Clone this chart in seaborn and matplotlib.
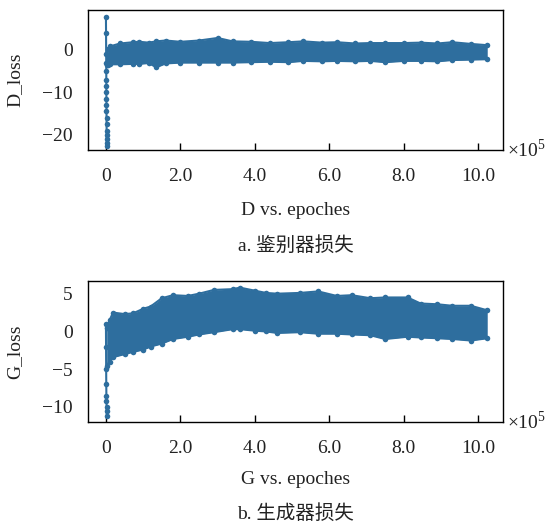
import numpy as np
import matplotlib
matplotlib.use("Agg")
import matplotlib.pyplot as plt
import seaborn as sns
from matplotlib.ticker import FuncFormatter

# values (x in epochs)
d_spike_x = [0, 300, 600, 800, 900, 1000, 1100, 1200, 1300, 1400, 1500, 1600, 1700, 1800, 1900, 2000, 2100, 2200]
d_spike_y = [7.7, 4.0, -1.0, -3.0, -5.0, -7.0, -8.6, -10.0, -11.5, -13.0, -14.5, -16.0, -17.5, -19.0, -20.0, -21.0, -22.0, -22.6]
d_x = [2000, 6000, 10000, 38000, 73000, 90000, 115000, 135000, 160000, 200000, 250000, 300000, 340000,
       390000, 440000, 490000, 530000, 580000, 620000, 670000, 710000, 750000, 800000, 845000, 890000,
       930000, 980000, 1024000]
d_upper = [-3.0, 0.3, 0.8, 1.5, 1.8, 1.9, 1.7, 2.0, 2.2, 1.9, 2.2, 2.8, 2.0,
           1.9, 1.6, 1.8, 2.0, 1.7, 1.8, 1.5, 1.6, 1.6, 1.6, 1.7, 1.5,
           1.8, 1.4, 1.1]
d_lower = [-3.6, -3.5, -3.4, -3.4, -3.3, -3.3, -3.1, -4.1, -3.2, -3.0, -3.0, -3.0, -3.0,
           -2.9, -2.8, -2.9, -2.6, -2.7, -2.6, -2.7, -2.6, -2.9, -2.6, -2.6, -2.7,
           -2.4, -2.3, -2.2]

g_spike_x = [0, 300, 600, 900, 1200, 1500, 1800, 2000, 2200]
g_spike_y = [1.0, -2.0, -5.0, -7.0, -8.5, -9.2, -10.0, -10.5, -11.2]
g_x = [2000, 10000, 19000, 50000, 73000, 100000, 120000, 150000, 180000, 220000, 250000, 290000,
       340000, 360000, 400000, 430000, 460000, 520000, 570000, 620000, 660000, 710000, 750000, 810000,
       845000, 890000, 930000, 980000, 1024000]
g_upper = [0.5, 1.5, 2.5, 2.3, 2.4, 3.0, 3.3, 4.4, 4.8, 4.7, 5.0, 5.5,
           5.6, 5.8, 5.4, 5.1, 5.0, 5.1, 5.3, 4.7, 4.8, 4.4, 4.5, 4.5,
           3.7, 3.6, 3.4, 3.4, 2.8]
g_lower = [-4.6, -4.0, -3.4, -3.0, -2.7, -2.4, -2.0, -1.6, -1.0, -0.7, -0.4, -0.1,
           0.3, 0.3, 0.1, 0.0, -0.2, -0.1, -0.3, -0.3, -0.4, -0.5, -1.0, -0.7,
           -0.8, -0.9, -1.0, -1.2, -0.9]

x_ticks = [0, 200000, 400000, 600000, 800000, 1000000]

color = "#2e6e9e"
text_color = "#222222"

sns.set_style("ticks")
plt.rcParams["font.family"] = ["Liberation Serif", "Noto Sans CJK SC"]
plt.rcParams["mathtext.fontset"] = "custom"
plt.rcParams["mathtext.rm"] = "Liberation Serif"
plt.rcParams["font.size"] = 14

fig = plt.figure(figsize=(5.47, 5.23), dpi=100)
ax1 = fig.add_axes([0.161, 0.713, 0.759, 0.268])
ax2 = fig.add_axes([0.161, 0.193, 0.759, 0.270])


def draw(ax, sx, sy, bx, up, lo):
    ax.fill_between(bx, lo, up, color=color, lw=0)
    for ys in (up, lo):
        sns.lineplot(x=bx, y=ys, marker="o", markersize=4, markeredgewidth=0,
                     color=color, lw=1.5, estimator=None, ax=ax)
    sns.lineplot(x=sx, y=sy, marker="o", markersize=4, markeredgewidth=0,
                 color=color, lw=1.5, sort=False, estimator=None, ax=ax)
    ax.set_xlim(-48000, 1067000)
    ax.set_xticks(x_ticks)
    ax.xaxis.set_major_formatter(FuncFormatter(lambda v, p: "0" if v == 0 else f"{v / 1e5:.1f}"))
    ax.tick_params(axis="x", direction="in", length=5, width=1, pad=13, colors="black", labelcolor=text_color)
    ax.tick_params(axis="y", length=0, pad=11, labelcolor=text_color)
    for s in ax.spines.values():
        s.set_visible(True)
        s.set_color("black")
        s.set_linewidth(1)
    ax.text(1.008, 0.0, r"×10$^{\mathrm{5}}$", transform=ax.transAxes, va="center", ha="left",
            color=text_color, fontsize=14)
    ax.yaxis.label.set_va("center")
    ax.xaxis.label.set_va("center")


draw(ax1, d_spike_x, d_spike_y, d_x, d_upper, d_lower)
ax1.set_ylim(-23.6, 9.4)
ax1.set_yticks([0, -10, -20])
ax1.set_ylabel("D_loss", color=text_color)
ax1.set_xlabel("D vs. epoches", color=text_color)
ax1.yaxis.set_label_coords(-0.176, 0.5)
ax1.xaxis.set_label_coords(0.5, -0.43)

draw(ax2, g_spike_x, g_spike_y, g_x, g_upper, g_lower)
ax2.set_ylim(-12.0, 6.7)
ax2.set_yticks([5, 0, -5, -10])
ax2.set_ylabel("G_loss", color=text_color)
ax2.set_xlabel("G vs. epoches", color=text_color)
ax2.yaxis.set_label_coords(-0.176, 0.5)
ax2.xaxis.set_label_coords(0.5, -0.41)

fig.text(0.54, 1 - 245 / 523, "a. 鉴别器损失", ha="center", va="center", color=text_color)
fig.text(0.54, 1 - 513 / 523, "b. 生成器损失", ha="center", va="center", color=text_color)

fig.savefig("out.png", dpi=100)
